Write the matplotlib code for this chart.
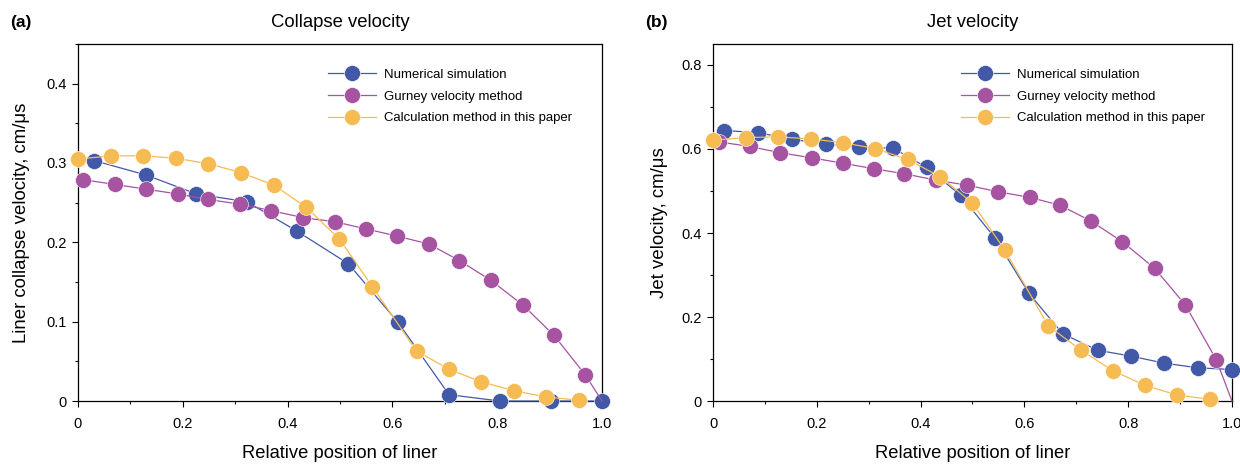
import matplotlib.pyplot as plt
from matplotlib.ticker import MultipleLocator

plt.rcParams['font.family'] = ['Liberation Sans', 'DejaVu Sans']

blue = '#4259a8'
purple = '#a653a1'
yellow = '#f6bb52'

# (a) collapse velocity
a_num_x = [0.031, 0.129, 0.226, 0.323, 0.418, 0.516, 0.611, 0.708, 0.805, 0.903, 1.0]
a_num_y = [0.303, 0.285, 0.261, 0.251, 0.214, 0.173, 0.099, 0.008, 0.0, 0.0, 0.0]
a_gur_x = [0.009, 0.070, 0.130, 0.190, 0.249, 0.310, 0.369, 0.430, 0.490, 0.549,
           0.608, 0.669, 0.728, 0.788, 0.849, 0.908, 0.968, 1.0]
a_gur_y = [0.279, 0.273, 0.267, 0.261, 0.254, 0.248, 0.240, 0.231, 0.226, 0.217,
           0.208, 0.198, 0.177, 0.152, 0.121, 0.083, 0.033, 0.0]
a_calc_x = [0.0, 0.063, 0.125, 0.187, 0.249, 0.311, 0.374, 0.436, 0.499, 0.562,
            0.646, 0.708, 0.770, 0.832, 0.894, 0.956]
a_calc_y = [0.305, 0.309, 0.309, 0.306, 0.299, 0.288, 0.272, 0.244, 0.204, 0.144,
            0.063, 0.040, 0.024, 0.013, 0.005, 0.001]

# (b) jet velocity
b_num_x = [0.021, 0.087, 0.152, 0.217, 0.282, 0.347, 0.412, 0.477, 0.544, 0.609,
           0.674, 0.741, 0.805, 0.870, 0.935, 1.0]
b_num_y = [0.644, 0.639, 0.623, 0.612, 0.604, 0.602, 0.556, 0.490, 0.387, 0.256,
           0.160, 0.121, 0.107, 0.090, 0.079, 0.075]
b_gur_x = [0.011, 0.071, 0.130, 0.190, 0.251, 0.310, 0.369, 0.429, 0.489, 0.550,
           0.610, 0.669, 0.729, 0.789, 0.851, 0.910, 0.970, 1.0]
b_gur_y = [0.617, 0.606, 0.591, 0.579, 0.566, 0.553, 0.541, 0.526, 0.514, 0.498,
           0.485, 0.466, 0.428, 0.379, 0.316, 0.229, 0.098, 0.0]
b_calc_x = [0.0, 0.063, 0.125, 0.188, 0.251, 0.313, 0.375, 0.438, 0.500, 0.562,
            0.646, 0.709, 0.771, 0.833, 0.895, 0.958]
b_calc_y = [0.621, 0.627, 0.629, 0.624, 0.615, 0.601, 0.575, 0.534, 0.471, 0.360,
            0.179, 0.121, 0.072, 0.037, 0.014, 0.004]

labels = ['Numerical simulation', 'Gurney velocity method',
          'Calculation method in this paper']


def draw_panel(ax, series, ymax, ymajor, title, ylabel, tag, ylabelpad):
    for (x, y, color, label, open_end) in series:
        mk = list(range(len(x) - 1)) if open_end else None
        ax.plot(x, y, '-o', color=color, lw=0.9, ms=11.5, mec='white', mew=0.4,
                markevery=mk, label=label, clip_on=False, zorder=3)
    ax.set_xlim(0, 1.0)
    ax.set_ylim(0, ymax)
    ax.xaxis.set_major_locator(MultipleLocator(0.2))
    ax.xaxis.set_minor_locator(MultipleLocator(0.1))
    ax.yaxis.set_major_locator(MultipleLocator(ymajor))
    ax.yaxis.set_minor_locator(MultipleLocator(ymajor / 2))
    ax.xaxis.set_major_formatter(lambda v, p: '0' if v == 0 else f'{v:.1f}')
    ax.yaxis.set_major_formatter(lambda v, p: '0' if v == 0 else f'{v:.1f}')
    ax.tick_params(which='major', direction='out', length=4.5, width=0.8, labelsize=10.5)
    ax.tick_params(axis='x', which='major', pad=7)
    ax.tick_params(which='minor', direction='out', length=2.5, width=0.8)
    for s in ax.spines.values():
        s.set_linewidth(0.9)
    ax.set_title(title, fontsize=13.3, pad=12)
    ax.set_xlabel('Relative position of liner', fontsize=13.2, labelpad=10)
    ax.set_ylabel(ylabel, fontsize=13.4, labelpad=ylabelpad)
    ax.text(-0.13, 1.059, tag, transform=ax.transAxes, fontsize=12.5,
            fontweight='bold', va='center', ha='left')
    ax.legend(loc='upper left', bbox_to_anchor=(0.468, 0.945), frameon=False,
              fontsize=9.45, handlelength=3.65, handletextpad=0.6, labelspacing=0.72,
              borderaxespad=0)


fig = plt.figure(figsize=(12.4, 4.65), dpi=100)
ax1 = fig.add_axes([0.0629, 0.1376, 0.4226, 0.7678])
ax2 = fig.add_axes([0.575, 0.1376, 0.4185, 0.7678])

draw_panel(ax1, [(a_num_x, a_num_y, blue, labels[0], False),
                 (a_gur_x, a_gur_y, purple, labels[1], True),
                 (a_calc_x, a_calc_y, yellow, labels[2], False)],
           0.45, 0.1, 'Collapse velocity', 'Liner collapse velocity, cm/μs', '(a)', 12)
draw_panel(ax2, [(b_num_x, b_num_y, blue, labels[0], False),
                 (b_gur_x, b_gur_y, purple, labels[1], True),
                 (b_calc_x, b_calc_y, yellow, labels[2], False)],
           0.85, 0.2, 'Jet velocity', 'Jet velocity, cm/μs', '(b)', 10)

fig.savefig('out.png', dpi=100)
